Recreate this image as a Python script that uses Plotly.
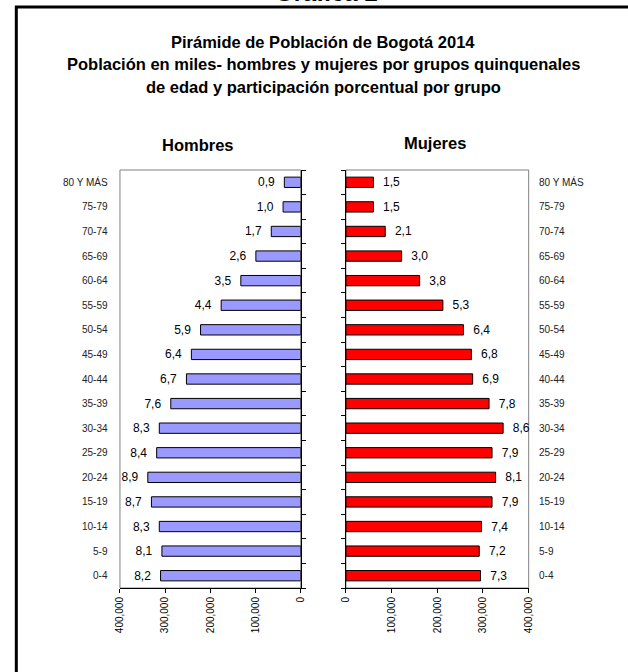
import plotly.graph_objects as go

# ---------------- data ----------------
age_groups = ["0-4", "5-9", "10-14", "15-19", "20-24", "25-29", "30-34", "35-39",
              "40-44", "45-49", "50-54", "55-59", "60-64", "65-69", "70-74", "75-79",
              "80 Y MÁS"]
hombres = [310200, 307200, 313000, 330400, 338400, 318800, 313000, 287600,
           252900, 242000, 221700, 176100, 132600, 99300, 65200, 39100, 36300]
mujeres = [294600, 291800, 296800, 319800, 327600, 319800, 344100, 313300,
           277400, 274600, 257400, 212200, 161300, 121900, 86000, 60200, 60200]
pct_hombres = ["8,2", "8,1", "8,3", "8,7", "8,9", "8,4", "8,3", "7,6",
               "6,7", "6,4", "5,9", "4,4", "3,5", "2,6", "1,7", "1,0", "0,9"]
pct_mujeres = ["7,3", "7,2", "7,4", "7,9", "8,1", "7,9", "8,6", "7,8",
               "6,9", "6,8", "6,4", "5,3", "3,8", "3,0", "2,1", "1,5", "1,5"]
x_ticks = [0, 100000, 200000, 300000, 400000]

FONT = "Liberation Sans, Arial, sans-serif"
W, H = 628, 672

def px_x(p):
    return p / W

def px_y(p):
    return 1 - p / H

fig = go.Figure()

fig.add_trace(go.Bar(
    y=age_groups, x=hombres, orientation="h", xaxis="x", yaxis="y",
    marker=dict(color="#9999FF", line=dict(color="black", width=1)),
    text=[t + "\u00a0\u00a0" for t in pct_hombres], textposition="outside",
    constraintext="none", cliponaxis=False,
    textfont=dict(family=FONT, size=12, color="black"),
    hoverinfo="skip", showlegend=False,
))
fig.add_trace(go.Bar(
    y=age_groups, x=mujeres, orientation="h", xaxis="x2", yaxis="y2",
    marker=dict(color="#FF0000", line=dict(color="black", width=1)),
    text=["\u00a0\u00a0" + t for t in pct_mujeres], textposition="outside",
    constraintext="none", cliponaxis=False,
    textfont=dict(family=FONT, size=12, color="black"),
    hoverinfo="skip", showlegend=False,
))

ydom = [px_y(588), px_y(170)]
xdom1 = [px_x(116), px_x(300)]
xdom2 = [px_x(346), px_x(532)]

common_x = dict(
    showline=True, linecolor="black", linewidth=1, ticks="outside", ticklen=4,
    tickcolor="black", tickvals=x_ticks, tickformat=",d", tickangle=-90,
    tickfont=dict(family=FONT, size=10, color="black"), showgrid=False,
    zeroline=False, fixedrange=True,
)
common_y = dict(
    type="category", categoryorder="array", categoryarray=age_groups,
    showline=True, linecolor="black", linewidth=1, ticks="outside", ticklen=4,
    tickcolor="black", tickson="boundaries", showticklabels=False,
    showgrid=False, zeroline=False, domain=ydom, fixedrange=True,
)

fig.update_layout(
    width=W, height=H,
    margin=dict(l=0, r=0, t=0, b=0),
    paper_bgcolor="white", plot_bgcolor="white",
    bargap=0.58,
    xaxis=dict(domain=xdom1, range=[400000, 0], anchor="y", **common_x),
    yaxis=dict(anchor="x", side="right", **common_y),
    xaxis2=dict(domain=xdom2, range=[0, 400000], anchor="y2", **common_x),
    yaxis2=dict(anchor="x2", side="left", **common_y),
    font=dict(family=FONT, color="black"),
)

shapes = [
    # gray plot-area borders (black axis lines drawn over two sides)
    dict(type="rect", xref="x domain", yref="y domain", x0=0, x1=1, y0=0, y1=1,
         line=dict(color="#808080", width=1), layer="below"),
    dict(type="rect", xref="x2 domain", yref="y2 domain", x0=0, x1=1, y0=0, y1=1,
         line=dict(color="#808080", width=1), layer="below"),
    # outer frame (left and top edges visible)
    dict(type="path", xref="paper", yref="paper",
         path=f"M {px_x(10.5)} -0.05 L {px_x(10.5)} {px_y(7)} L 1.05 {px_y(7)}",
         line=dict(color="black", width=3)),
]
fig.update_layout(shapes=shapes)

annotations = []
# title "Gráfica 2" cut off at the top (as in the reference)
annotations.append(dict(text="<b>Gráfica 2</b>", xref="paper", yref="paper",
                        x=px_x(326), y=1 + 7 / H, xanchor="center", yanchor="middle",
                        showarrow=False, font=dict(family=FONT, size=24, color="black")))
title_lines = ["Pirámide de Población de Bogotá 2014",
               "Población en miles- hombres y mujeres por grupos quinquenales",
               "de edad y participación porcentual por grupo"]
for line, yy in zip(title_lines, [42, 64, 87]):
    annotations.append(dict(text=f"<b>{line}</b>", xref="paper", yref="paper",
                            x=px_x(323), y=px_y(yy), xanchor="center", yanchor="middle",
                            showarrow=False, font=dict(family=FONT, size=16.5, color="black")))
annotations.append(dict(text="<b>Hombres</b>", xref="paper", yref="paper",
                        x=px_x(195), y=px_y(145), xanchor="center", yanchor="middle",
                        showarrow=False, font=dict(family=FONT, size=16.5, color="black")))
annotations.append(dict(text="<b>Mujeres</b>", xref="paper", yref="paper",
                        x=px_x(437), y=px_y(143), xanchor="center", yanchor="middle",
                        showarrow=False, font=dict(family=FONT, size=16.5, color="black")))
for g in age_groups:
    annotations.append(dict(text=g, xref="paper", yref="y", x=px_x(106), y=g,
                            xanchor="right", yanchor="middle", showarrow=False,
                            font=dict(family=FONT, size=10, color="#222222")))
    annotations.append(dict(text=g, xref="paper", yref="y2", x=px_x(540), y=g,
                            xanchor="left", yanchor="middle", showarrow=False,
                            font=dict(family=FONT, size=10, color="#222222")))
fig.update_layout(annotations=annotations)

fig.write_html(
    "out.html",
    config={"displayModeBar": False, "staticPlot": True},
    post_script="document.body.style.margin='0';document.body.style.overflow='hidden';",
)
